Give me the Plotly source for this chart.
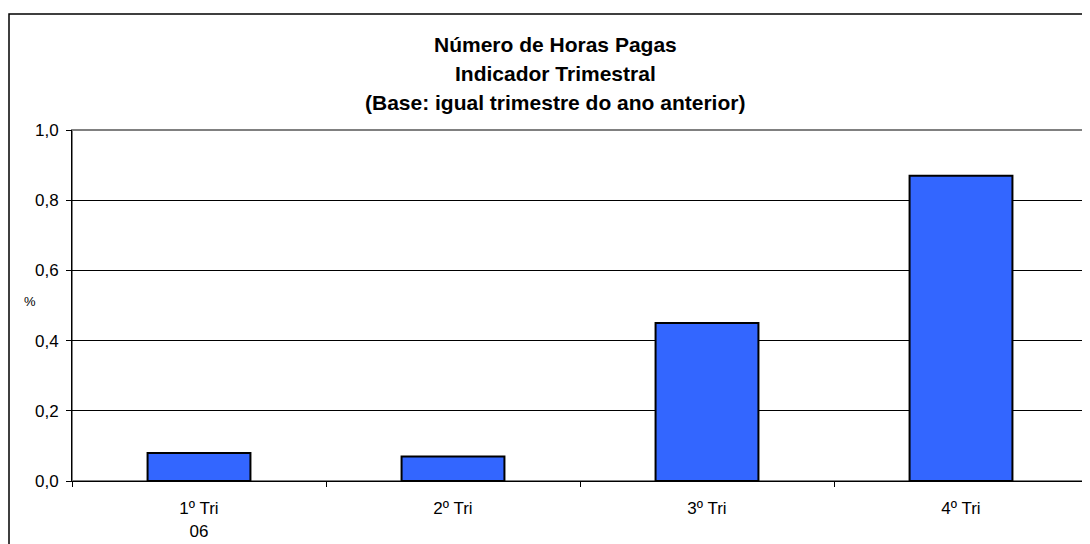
import plotly.graph_objects as go

categories = ["1º Tri", "2º Tri", "3º Tri", "4º Tri"]
tick_labels = ["1º Tri<br>06", "2º Tri", "3º Tri", "4º Tri"]
values = [0.08, 0.07, 0.45, 0.87]
title_lines = ["Número de Horas Pagas", "Indicador Trimestral", "(Base: igual trimestre do ano anterior)"]
y_ticks = [0.0, 0.2, 0.4, 0.6, 0.8, 1.0]

W, H = 1090, 544
OFF = 8  # page offset of the figure in the screenshot
L, R, T, B = 72 - OFF, 10, 130 - OFF, 71
pw = W - L - R
ph = H - T - B

def px_x(px):
    return (px - OFF - L) / pw

def px_y(py):
    return (H - B - (py - OFF)) / ph

FONT = "Liberation Sans, Arial, sans-serif"

fig = go.Figure()
fig.add_trace(go.Bar(
    x=categories, y=values,
    marker=dict(color="#3366FF", line=dict(color="black", width=2)),
    width=0.405,
))

fig.update_layout(
    width=W, height=H,
    margin=dict(l=L, r=R, t=T, b=B),
    paper_bgcolor="white", plot_bgcolor="white",
    separators=",.",
    showlegend=False,
    font=dict(family=FONT, size=17, color="black"),
    xaxis=dict(
        type="category",
        tickvals=categories, ticktext=tick_labels,
        ticks="outside", tickson="boundaries", ticklen=5, tickcolor="black",
        showline=True, linecolor="black", linewidth=1,
        showgrid=False,
        ticklabelstandoff=12,
        tickfont=dict(size=17),
    ),
    yaxis=dict(
        range=[0, 1.0], tickvals=y_ticks, tickformat=".1f",
        ticks="outside", ticklen=5, tickcolor="black",
        showline=True, linecolor="black", linewidth=1,
        showgrid=True, gridcolor="black", gridwidth=1,
        zeroline=False,
        ticklabelstandoff=4,
        tickfont=dict(size=17),
    ),
)

# plot-area border (gray) and outer chart border (black)
fig.add_shape(type="rect", xref="paper", yref="paper", x0=0, y0=0, x1=1, y1=1,
              line=dict(color="#808080", width=2), layer="below")
fig.add_shape(type="rect", xref="paper", yref="paper",
              x0=px_x(9), y0=px_y(580), x1=px_x(1110), y1=px_y(14),
              line=dict(color="black", width=1.5))

for line, py in zip(title_lines, [45, 73.5, 102]):
    fig.add_annotation(text="<b>%s</b>" % line, xref="paper", yref="paper",
                       x=px_x(555), y=px_y(py), xanchor="center", yanchor="middle",
                       showarrow=False, font=dict(family=FONT, size=21, color="black"))

fig.add_annotation(text="%", xref="paper", yref="paper", x=px_x(30), y=px_y(301),
                   xanchor="center", yanchor="middle", showarrow=False,
                   font=dict(family=FONT, size=13, color="black"))

fig.write_html("out.html")
